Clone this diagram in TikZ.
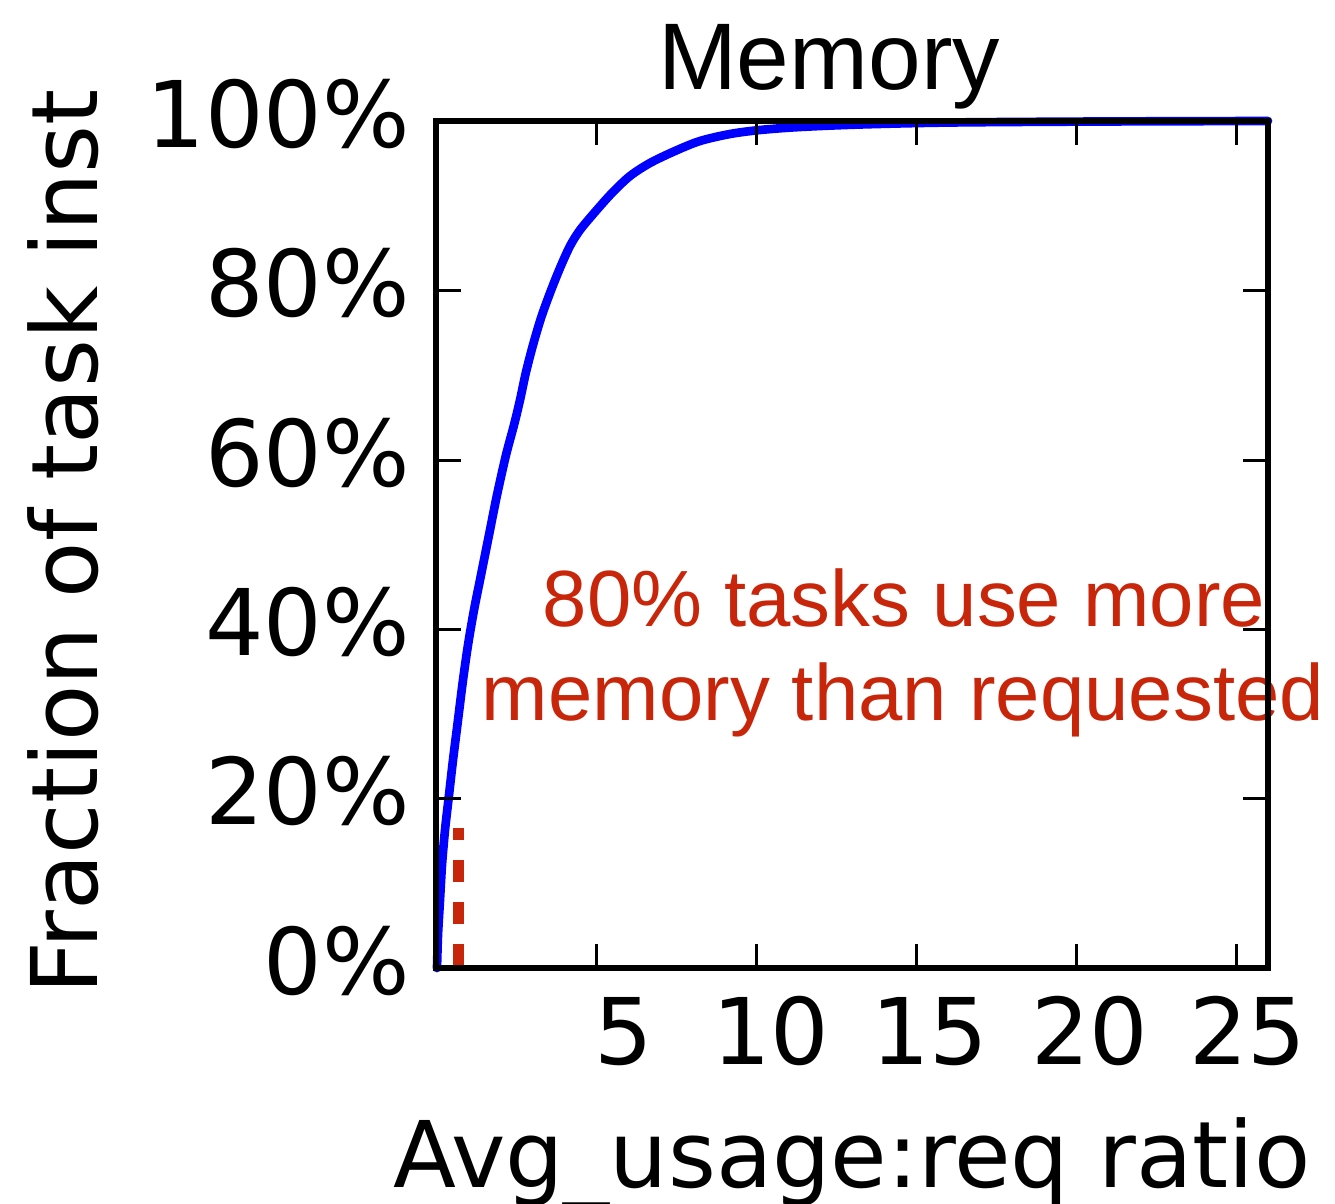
\documentclass[tikz,border=0pt]{standalone}
\usepackage{fontspec}
\setmainfont{DejaVu Sans}
\newfontfamily\helv{Liberation Sans}
\definecolor{curveblue}{RGB}{0,0,255}
\definecolor{noteRed}{RGB}{200,38,10}
\begin{document}
\begin{tikzpicture}[x=0.75pt,y=-0.75pt,
  axframe/.style={line width=4.25pt,line join=miter},
  axtick/.style={line width=2.25pt},
  ticklab/.style={inner sep=0pt,font=\fontsize{69}{83}\selectfont},
  axlab/.style={inner sep=0pt,font=\fontsize{69}{83}\selectfont},
  titlelab/.style={inner sep=0pt,font=\helv\fontsize{71}{85}\selectfont},
  notelab/.style={inner sep=0pt,text=noteRed,font=\helv\fontsize{59.8}{72}\selectfont},
  cdf/.style={curveblue,line width=6.5pt,line join=round,line cap=round},
  marker/.style={noteRed,line width=8.25pt,dash pattern=on 16.5pt off 15pt}
]
\useasboundingbox (0,0) rectangle (1335,1203);

% annotation text (drawn first so the axes frame sits on top)
\node[notelab,anchor=base] (note1) at (904,626) {80\% tasks use more};
\node[notelab,anchor=base] (note2) at (903,720) {memory than requested};

% dashed marker near the origin
\coordinate (mbot) at (458,966);
\coordinate (mtop) at (458,828);
\draw[marker] (mbot) -- (mtop);

% CDF curve
\draw[cdf] plot[smooth,tension=0.5] coordinates {
  (437,968) (438,935) (440,900) (442,865) (445,830) (449,795) (453,760)
  (458,720) (463,680) (468,645) (474,610) (481,575) (489,535) (497,495)
  (506,455) (514,425) (520,400) (526,372) (533,345) (541,318) (550,293)
  (560,268) (570,246) (580,230) (595,212) (612,193) (630,176) (650,163)
  (675,151) (700,141) (730,134) (760,130) (800,127) (860,124.5)
  (950,122.5) (1100,121.5) (1268,121)};

% ticks on all four sides
\foreach \yy in {290,460,629,798}{
  \draw[axtick] (436,\yy) -- (461,\yy);
  \draw[axtick] (1268,\yy) -- (1243,\yy);
}
\foreach \xx in {596,756,916,1076,1236}{
  \draw[axtick] (\xx,968) -- (\xx,944);
  \draw[axtick] (\xx,121) -- (\xx,145);
}

% axes frame
\draw[axframe] (436,121) rectangle (1268,968);

% y tick labels
\node[ticklab,anchor=base east] (y100) at (410,147) {100\%};
\node[ticklab,anchor=base east] (y80) at (410,316) {80\%};
\node[ticklab,anchor=base east] (y60) at (410,486) {60\%};
\node[ticklab,anchor=base east] (y40) at (410,655) {40\%};
\node[ticklab,anchor=base east] (y20) at (410,824) {20\%};
\node[ticklab,anchor=base east] (y0) at (410,994) {0\%};

% x tick labels
\node[ticklab,anchor=base] (x5) at (624,1064) {5};
\node[ticklab,anchor=base] (x10) at (771,1064) {10};
\node[ticklab,anchor=base] (x15) at (930,1064) {15};
\node[ticklab,anchor=base] (x20) at (1090,1064) {20};
\node[ticklab,anchor=base] (x25) at (1248,1064) {25};

% axis labels and title
\node[axlab,anchor=base] (xlabel) at (852,1187) {Avg\_usage:req ratio};
\node[axlab,anchor=base,rotate=90] (ylabel) at (97,542) {Fraction of task inst};
\node[titlelab,anchor=base] (title) at (829,89) {Memory};
\end{tikzpicture}
\end{document}
